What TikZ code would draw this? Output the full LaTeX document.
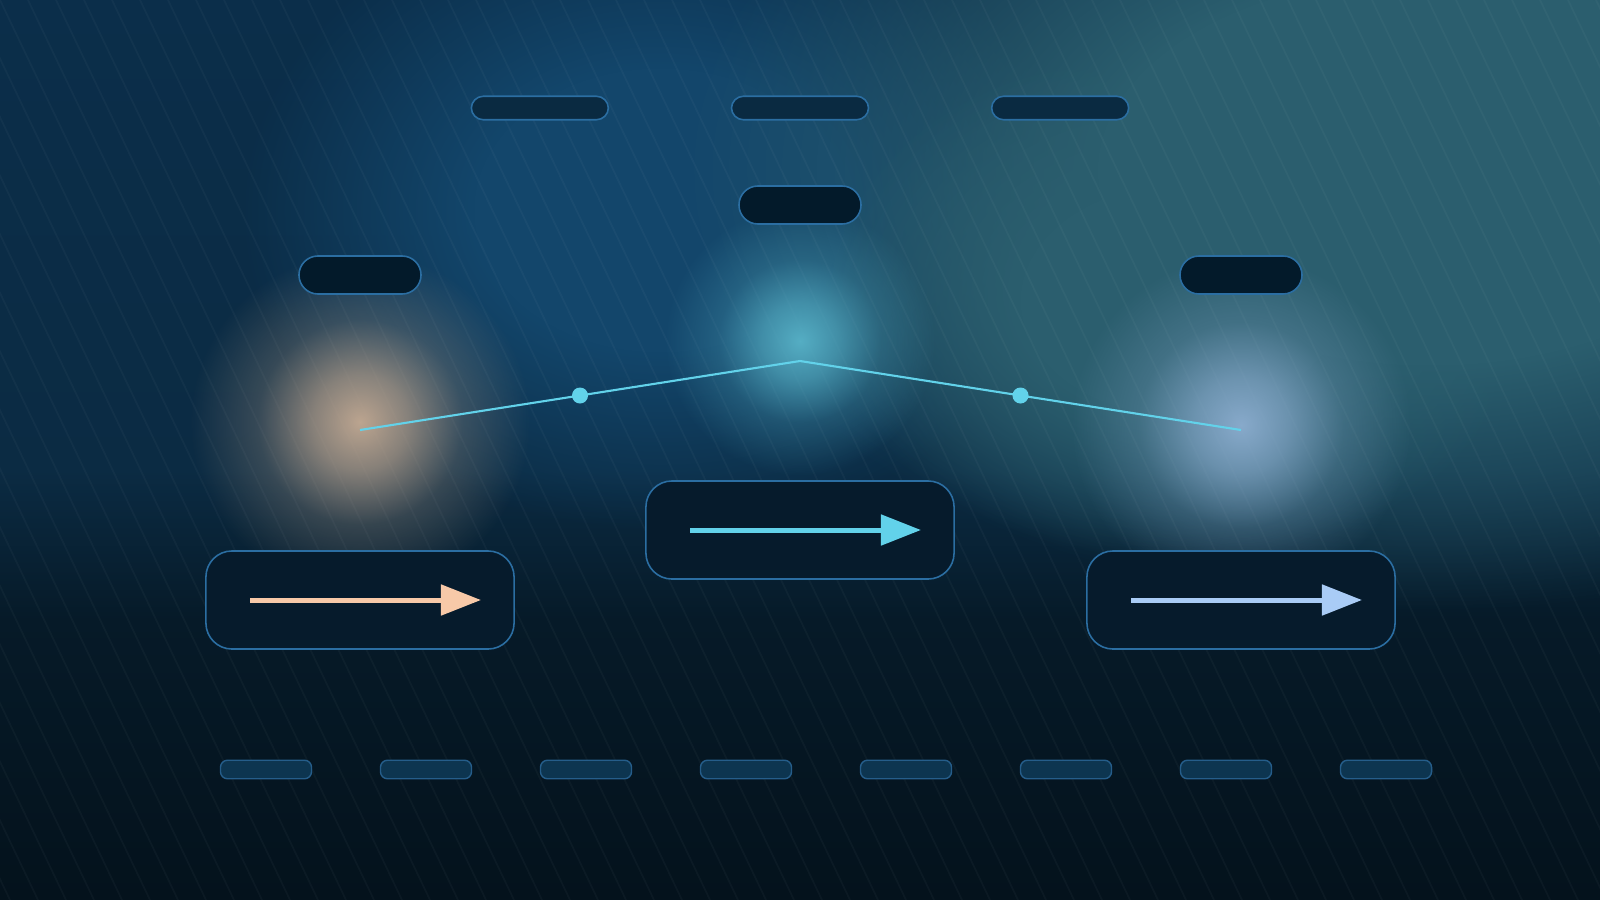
\documentclass[tikz,border=0pt]{standalone}
\usetikzlibrary{positioning,arrows.meta,fadings,calc}

\definecolor{topc}{HTML}{0B2E4A}
\definecolor{midc}{HTML}{0B2B43}
\definecolor{lowc}{HTML}{061A28}
\definecolor{botc}{HTML}{04121C}
\definecolor{bgblue}{HTML}{13466B}
\definecolor{bgteal}{HTML}{2B5E6E}
\definecolor{edge}{HTML}{2B6EA2}
\definecolor{slotfill}{HTML}{0A2A41}
\definecolor{capfill}{HTML}{031A2A}
\definecolor{boxfill}{HTML}{061B2C}
\definecolor{tickfill}{HTML}{0D3550}
\definecolor{wire}{HTML}{62D2EA}
\definecolor{peach}{HTML}{F7C9A8}
\definecolor{sky}{HTML}{A9CCF6}
\definecolor{glowpeach}{HTML}{BCA590}
\definecolor{glowcyan}{HTML}{55AEC4}
\definecolor{glowsky}{HTML}{88AACB}

% soft radial fadings
\pgfdeclareradialshading{plateau}{\pgfpointorigin}{color(0bp)=(pgftransparent!0); color(11bp)=(pgftransparent!0); color(25bp)=(pgftransparent!100)}
\pgfdeclarefading{plateau fade}{\pgfuseshading{plateau}}
\pgfdeclareradialshading{bloom}{\pgfpointorigin}{color(0bp)=(pgftransparent!0); color(7bp)=(pgftransparent!30); color(15bp)=(pgftransparent!75); color(25bp)=(pgftransparent!100)}
\pgfdeclarefading{glow fade}{\pgfuseshading{bloom}}

\begin{document}
\begin{tikzpicture}[x=0.01cm, y=-0.01cm, node distance=2.6cm,
  slot/.style={rounded corners=0.12cm, draw=edge, line width=0.45pt, fill=slotfill, minimum width=1.37cm, minimum height=0.235cm, inner sep=0pt},
  capsule/.style={rounded corners=0.19cm, draw=edge, line width=0.45pt, fill=capfill, minimum width=1.22cm, minimum height=0.38cm, inner sep=0pt},
  panel/.style={rounded corners=0.26cm, draw=edge, line width=0.45pt, fill=boxfill, minimum width=3.08cm, minimum height=0.98cm, inner sep=0pt},
  tick/.style={rounded corners=0.07cm, draw=edge!85!black, line width=0.4pt, fill=tickfill, minimum width=0.91cm, minimum height=0.185cm, inner sep=0pt},
  dot/.style={circle, fill=wire, inner sep=0pt, minimum size=0.16cm},
  stripe/.style={white, opacity=0.03, line width=0.5pt},
  flow/.style={line width=0.05cm, -{Triangle[length=0.4cm, width=0.3cm]}}]

\useasboundingbox (0,0) rectangle (1600,900);

% background
\shade[top color=topc, bottom color=midc] (0,0) rectangle (1600,470);
\shade[top color=midc, bottom color=lowc] (0,470) rectangle (1600,620);
\shade[top color=lowc, bottom color=botc] (0,620) rectangle (1600,900);
\fill[bgblue, path fading=plateau fade] (660,210) ellipse (4.2cm and 3.2cm);
\fill[bgteal, path fading=plateau fade] (1430,170) ellipse (7.5cm and 4.4cm);
\fill[bgteal, path fading=plateau fade] (1180,300) ellipse (3.6cm and 2.6cm);
\begin{scope}
  \clip (0,0) rectangle (1600,900);
  \foreach \i in {-16,...,57}
    \draw[stripe] (\i*28,0) -- ++(430,900);
\end{scope}

% glows
\coordinate (gl) at (360,430);
\coordinate (gc) at (800,361);
\coordinate (gr) at (1241,430);
\fill[glowpeach, path fading=glow fade] ($(gl)+(0,-8)$) circle (1.7cm);
\fill[glowcyan, path fading=glow fade] ($(gc)+(0,-20)$) circle (1.35cm);
\fill[glowsky, path fading=glow fade] ($(gr)+(0,-5)$) circle (1.7cm);

% top row
\node[slot] (s2) at (800,108) {};
\node[slot] (s1) [left of=s2] {};
\node[slot] (s3) [right of=s2] {};

\node[capsule] (c2) at (800,205) {};
\node[capsule] (c1) at (360,275) {};
\node[capsule] (c3) at (1241,275) {};

% wire
\draw[wire, line width=0.6pt] (gl) -- (gc) -- (gr);
\path (gl) -- (gc) node[dot, midway] (m1) {};
\path (gc) -- (gr) node[dot, midway] (m2) {};

% panels
\node[panel] (p1) at (360,600) {};
\node[panel] (p2) at (800,530) {};
\node[panel] (p3) at (1241,600) {};

\coordinate (a1) at (250,600);  \coordinate (b1) at (481,600);
\coordinate (a2) at (690,530);  \coordinate (b2) at (921,530);
\coordinate (a3) at (1131,600); \coordinate (b3) at (1362,600);
\draw[flow, peach] (a1) -- (b1);
\draw[flow, wire] (a2) -- (b2);
\draw[flow, sky] (a3) -- (b3);

% bottom ticks
\foreach \k in {0,...,7}
  \node[tick] (t\k) at (266+\k*160,769.5) {};

\end{tikzpicture}
\end{document}
